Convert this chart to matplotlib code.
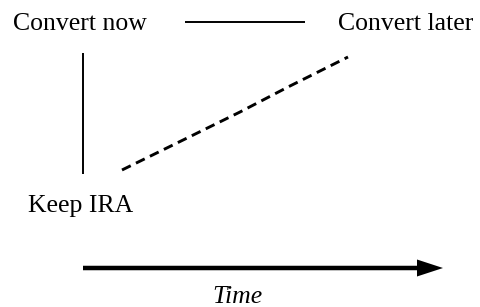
import matplotlib
matplotlib.use("Agg")
import matplotlib.pyplot as plt
from matplotlib.patches import FancyArrow

# Labels and their anchor positions (pixel coordinates of the diagram)
labels = ["Convert now", "Convert later", "Keep IRA"]
label_x = [13, 338, 28]
label_y = [30, 30, 212]

axis_label = "Time"
axis_label_xy = (237, 303)

# Solid connectors
horiz_x = [185, 305]
horiz_y = [22, 22]
vert_x = [83, 83]
vert_y = [53, 174]

# Dashed path
dash_x = [122, 177, 240, 288, 348]
dash_y = [170, 143, 112, 87, 57]

# Time arrow
arrow_start = (83, 268)
arrow_end_x = 443

plt.rcParams['lines.scale_dashes'] = False
fig = plt.figure(figsize=(4.8, 3.07), dpi=100)
ax = fig.add_axes([0, 0, 1, 1])
ax.set_xlim(0, 480)
ax.set_ylim(307, 0)
ax.axis('off')

font = "Liberation Serif"
fs = 18.5
for t, x, y in zip(labels, label_x, label_y):
    ax.text(x, y, t, fontsize=fs, family=font, ha='left', va='baseline', color='black')

ax.text(axis_label_xy[0], axis_label_xy[1], axis_label, fontsize=fs, family=font,
        style='italic', ha='center', va='baseline', color='black')

ax.plot(horiz_x, horiz_y, color='black', lw=1.4, solid_capstyle='butt')
ax.plot(vert_x, vert_y, color='black', lw=1.4, solid_capstyle='butt')
ax.plot(dash_x, dash_y, color='black', lw=2.1, dashes=(7, 4.2), dash_capstyle='butt')

ax.add_patch(FancyArrow(arrow_start[0], arrow_start[1], arrow_end_x - arrow_start[0], 0,
                        width=4.5, head_width=17, head_length=26,
                        length_includes_head=True, color='black', lw=0))

fig.savefig("out.png", dpi=100)
